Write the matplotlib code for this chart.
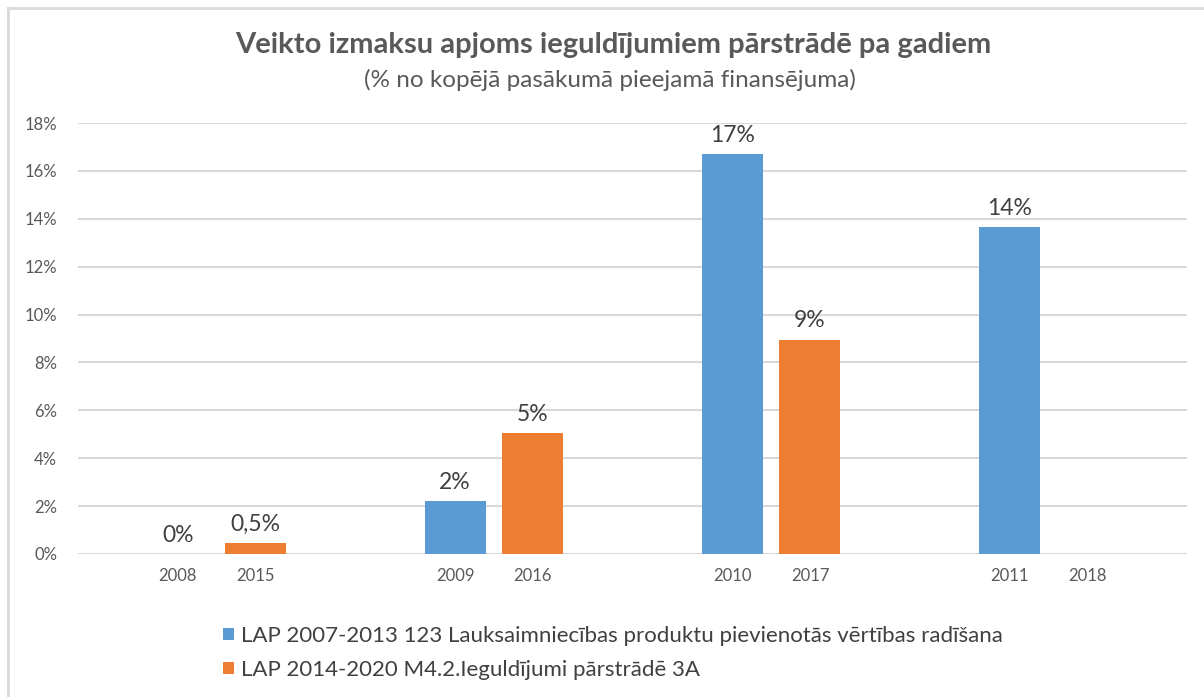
import matplotlib
matplotlib.use("Agg")
import matplotlib.pyplot as plt
from matplotlib.lines import Line2D
from matplotlib.patches import Patch
import numpy as np

plt.rcParams['font.family'] = ['Lato', 'DejaVu Sans']

title = "Veikto izmaksu apjoms ieguldījumiem pārstrādē pa gadiem"
subtitle = "(% no kopējā pasākumā pieejamā finansējuma)"
series_names = ["LAP 2007-2013 123 Lauksaimniecības produktu pievienotās vērtības radīšana",
                "LAP 2014-2020 M4.2.Ieguldījumi pārstrādē 3A"]
years_a = ["2008", "2009", "2010", "2011"]
years_b = ["2015", "2016", "2017", "2018"]
values_a = [0.0, 2.2, 16.7, 13.65]
values_b = [0.47, 5.05, 8.95, None]
labels_a = ["0%", "2%", "17%", "14%"]
labels_b = ["0,5%", "5%", "9%", ""]
yticks = [0, 2, 4, 6, 8, 10, 12, 14, 16, 18]

blue = "#5B9BD5"
orange = "#ED7D31"
tick_col = "#595959"
lab_col = "#404040"
grid_col = "#D9D9D9"

W, H = 1204, 697
fig = plt.figure(figsize=(W / 100, H / 100), dpi=100)
fig.patch.set_facecolor("white")

# outer frame
fig.add_artist(Line2D([8 / W, 1], [1 - 8 / H, 1 - 8 / H], transform=fig.transFigure,
                      color="#D9D9D9", lw=2))
fig.add_artist(Line2D([8 / W, 8 / W], [0, 1 - 8 / H], transform=fig.transFigure,
                      color="#D9D9D9", lw=2))

ax = fig.add_axes([78 / W, 1 - 554 / H, (1187 - 78) / W, (554 - 123) / H])
x = np.arange(len(years_a))
off = 0.14
bw = 0.22
va = np.array(values_a, dtype=float)
vb = np.array([np.nan if v is None else v for v in values_b], dtype=float)
ax.bar(x - off, va, bw, color=blue, zorder=3)
ax.bar(x + off, np.nan_to_num(vb), bw, color=orange, zorder=3)

for i in range(len(x)):
    ax.text(x[i] - off, va[i] + 0.35, labels_a[i], ha="center", va="bottom",
            fontsize=16.5, color=lab_col)
    if not np.isnan(vb[i]) and labels_b[i]:
        ax.text(x[i] + off, vb[i] + 0.35, labels_b[i], ha="center", va="bottom",
                fontsize=16.5, color=lab_col)

ax.set_xlim(-0.5, len(x) - 0.5)
ax.set_ylim(0, 18)
ax.set_yticks(yticks)
ax.set_yticklabels([f"{t}%" for t in yticks], fontsize=12, color=tick_col)
xt = np.concatenate([x - off, x + off])
ax.set_xticks(xt)
ax.set_xticklabels(years_a + years_b, fontsize=12, color=tick_col)
ax.tick_params(axis="both", length=0)
ax.tick_params(axis="x", pad=10)
ax.tick_params(axis="y", pad=15)
for lab in ax.get_yticklabels():
    lab.set_horizontalalignment("right")
ax.grid(axis="y", color=grid_col, lw=1.5, zorder=0)
for s in ax.spines.values():
    s.set_visible(False)

fig.text(613 / W, 1 - 45 / H, title, ha="center", va="center", fontsize=21,
         fontweight="bold", color=tick_col)
fig.text(610 / W, 1 - 80 / H, subtitle, ha="center", va="center", fontsize=17.5,
         color=tick_col)

handles = [Patch(facecolor=blue), Patch(facecolor=orange)]
leg = fig.legend(handles, series_names, loc="upper left",
                 bbox_to_anchor=(203 / W, 1 - 606 / H), frameon=False,
                 fontsize=16, handlelength=0.5, handleheight=0.5,
                 handletextpad=0.3, labelspacing=0.62, labelcolor=lab_col)

fig.savefig("out.png", dpi=100, facecolor="white")
